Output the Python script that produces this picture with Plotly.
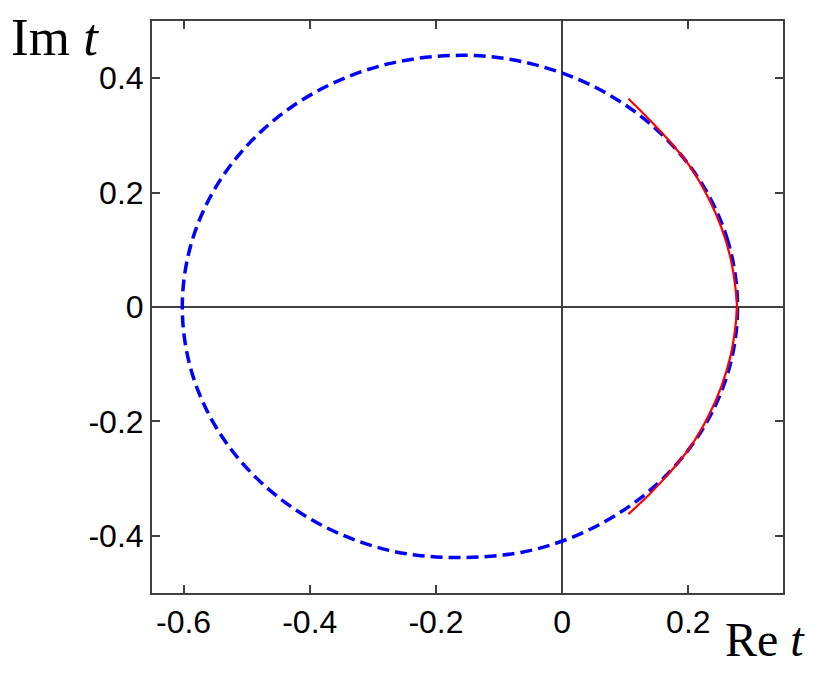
import plotly.graph_objects as go

# blue dashed loop (Re t, Im t)
loop_re = [0.278, 0.263, 0.219, 0.149, 0.058, -0.048, -0.155, -0.276, -0.382,
           -0.473, -0.543, -0.587, -0.602, -0.587, -0.543, -0.473, -0.382,
           -0.276, -0.170, -0.048, 0.058, 0.149, 0.219, 0.263, 0.278]
loop_im = [0.0, 0.114, 0.220, 0.311, 0.381, 0.425, 0.440, 0.425, 0.381,
           0.311, 0.220, 0.114, 0.0, -0.114, -0.220, -0.311, -0.381,
           -0.425, -0.438, -0.425, -0.381, -0.311, -0.220, -0.114, 0.0]

# red solid arc near the right side
arc_re = [0.105, 0.136, 0.170, 0.203, 0.232, 0.252, 0.267, 0.275, 0.277,
          0.275, 0.267, 0.252, 0.232, 0.203, 0.170, 0.136, 0.105]
arc_im = [0.364, 0.330, 0.290, 0.245, 0.190, 0.140, 0.085, 0.030, 0.0,
          -0.030, -0.085, -0.140, -0.190, -0.245, -0.290, -0.330, -0.362]

x_ticks = [-0.6, -0.4, -0.2, 0, 0.2]
x_labels = ["-0.6", "-0.4", "-0.2", "0", "0.2"]
y_ticks = [-0.4, -0.2, 0, 0.2, 0.4]
y_labels = ["-0.4", "-0.2", "0", "0.2", "0.4"]

fig = go.Figure()
fig.add_trace(go.Scatter(x=loop_re, y=loop_im, mode="lines",
                         line=dict(color="#0000ff", width=3.5, dash="12px,6px", shape="spline"),
                         hoverinfo="skip"))
fig.add_trace(go.Scatter(x=arc_re, y=arc_im, mode="lines",
                         line=dict(color="#ff0000", width=2.2, shape="spline"),
                         hoverinfo="skip"))

axis_style = dict(showgrid=False, showline=True, linecolor="#404040", linewidth=2,
                  mirror="ticks", ticks="inside", ticklen=8, tickwidth=1.5,
                  tickcolor="#404040", zeroline=True, zerolinecolor="#404040",
                  zerolinewidth=1.5,
                  tickfont=dict(family="Liberation Sans, Arial", size=32, color="black"))

fig.update_xaxes(range=[-0.65, 0.35], tickvals=x_ticks, ticktext=x_labels, **axis_style)
fig.update_yaxes(range=[-0.5, 0.5], tickvals=y_ticks, ticktext=y_labels, **axis_style)

# page body adds an 8px offset, so the figure is a bit smaller than the window
fig.add_annotation(x=-0.226, y=0.972, xref="paper", yref="paper", xanchor="left",
                   yanchor="middle", showarrow=False, text="Im <i>t</i>",
                   font=dict(family="Liberation Serif, Times New Roman", size=53, color="black"))
fig.add_annotation(x=0.972, y=-0.082, xref="paper", yref="paper", xanchor="center",
                   yanchor="middle", showarrow=False, text="Re <i>t</i>",
                   font=dict(family="Liberation Serif, Times New Roman", size=48, color="black"))

fig.update_layout(width=814, height=662, showlegend=False,
                  paper_bgcolor="white", plot_bgcolor="white",
                  margin=dict(l=144, r=39, t=11, b=77))

fig.write_html("out.html")
